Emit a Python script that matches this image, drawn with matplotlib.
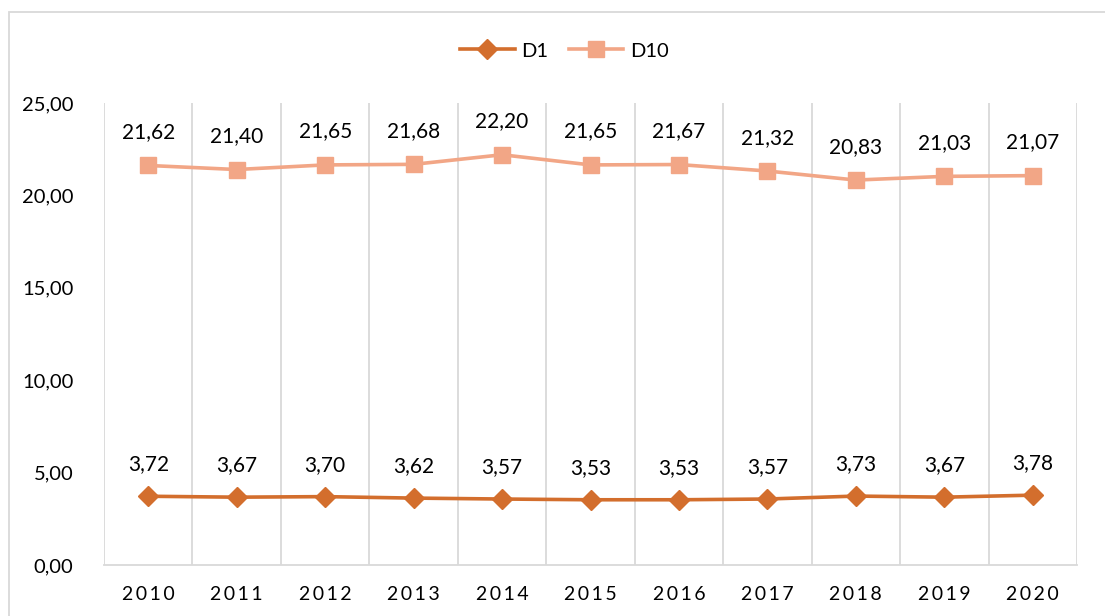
import matplotlib
matplotlib.use("Agg")
import matplotlib.pyplot as plt
from matplotlib.patches import Rectangle

years = ["2010", "2011", "2012", "2013", "2014", "2015", "2016", "2017", "2018", "2019", "2020"]
d1 = [3.72, 3.67, 3.70, 3.62, 3.57, 3.53, 3.53, 3.57, 3.73, 3.67, 3.78]
d10 = [21.62, 21.40, 21.65, 21.68, 22.20, 21.65, 21.67, 21.32, 20.83, 21.03, 21.07]
yticks = [0, 5, 10, 15, 20, 25]

plt.rcParams['font.family'] = ['Lato', 'DejaVu Sans']

W, H = 1105, 616
fig = plt.figure(figsize=(W / 100, H / 100), dpi=100)
ax = fig.add_axes([104 / W, 1 - 565 / H, (1077 - 104) / W, (565 - 103) / H])

c1 = '#D36E2D'
c10 = '#F2A686'
grid = '#D9D9D9'

x = list(range(len(years)))
ax.plot(x, d1, color=c1, lw=2.6, marker='D', ms=10, label='D1', zorder=3)
ax.plot(x, d10, color=c10, lw=2.6, marker='s', ms=11, label='D10', zorder=3)

def fmt(v):
    return f"{v:.2f}".replace('.', ',')

for xi, v in zip(x, d1):
    ax.annotate(fmt(v), (xi, v), xytext=(0, 23), textcoords='offset points',
                ha='center', va='center', fontsize=15, color='#000000')
for xi, v in zip(x, d10):
    ax.annotate(fmt(v), (xi, v), xytext=(0, 24), textcoords='offset points',
                ha='center', va='center', fontsize=15, color='#000000')

ax.set_xlim(-0.5, len(years) - 0.5)
ax.set_ylim(0, 25)
ax.set_yticks(yticks)
ax.set_yticklabels([fmt(v) for v in yticks], fontsize=14.5)
ax.set_xticks(x)
ax.set_xticklabels(['\u2009'.join(y) for y in years], fontsize=14)
ax.tick_params(axis='both', length=0)
ax.tick_params(axis='y', pad=22)
ax.tick_params(axis='x', pad=15)

for b in [i - 0.5 for i in range(len(years) + 1)]:
    ax.axvline(b, color=grid, lw=1.3, zorder=1)
for s in ['top', 'right', 'left']:
    ax.spines[s].set_visible(False)
ax.spines['bottom'].set_color(grid)
ax.spines['bottom'].set_linewidth(1.3)

leg = fig.legend(loc='center', bbox_to_anchor=(0.5 + 12 / W, 1 - 51 / H), ncol=2, frameon=False,
                 fontsize=14.5, handlelength=2.7, columnspacing=1.0, handletextpad=0.35)

fig.patches.append(Rectangle((9 / W, -0.05), 1.1, 1 - 12 / H + 0.05, transform=fig.transFigure,
                             fill=False, edgecolor=grid, lw=1.3))

fig.savefig('out.png', dpi=100)
